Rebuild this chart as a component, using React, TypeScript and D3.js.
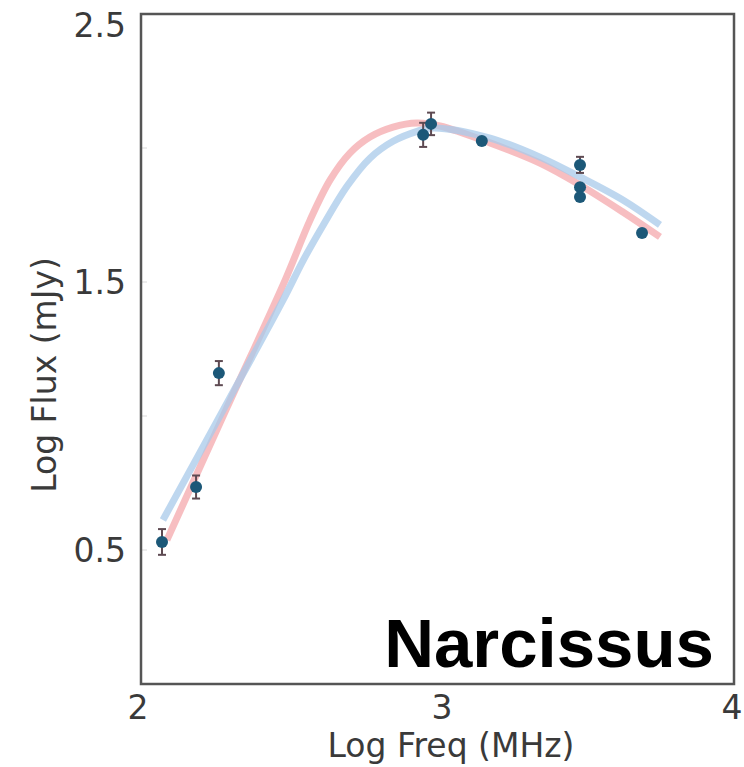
import React from "react";
import * as d3 from "d3";

// Observed data points (log frequency, log flux, error)
const obsFreq = [2.079, 2.191, 2.266, 2.938, 2.964, 3.131, 3.454, 3.454, 3.454, 3.658];
const obsFlux = [0.53, 0.735, 1.16, 2.049, 2.09, 2.026, 1.937, 1.854, 1.817, 1.683];
const obsErr = [0.048, 0.043, 0.045, 0.045, 0.042, 0.01, 0.03, 0.01, 0.01, 0.01];

// Model curve (pink)
const pinkFreq = [2.095, 2.289, 2.484, 2.566, 2.632, 2.697, 2.763, 2.839, 2.918, 2.993, 3.158, 3.322, 3.454, 3.595, 3.717];
const pinkFlux = [0.537, 1.022, 1.507, 1.731, 1.881, 1.981, 2.041, 2.078, 2.093, 2.082, 2.019, 1.944, 1.862, 1.761, 1.668];

// Model curve (blue)
const blueFreq = [2.082, 2.28, 2.477, 2.543, 2.609, 2.688, 2.763, 2.839, 2.918, 2.97, 3.158, 3.322, 3.454, 3.595, 3.717];
const blueFlux = [0.612, 1.022, 1.432, 1.58, 1.712, 1.858, 1.962, 2.025, 2.062, 2.075, 2.037, 1.966, 1.892, 1.806, 1.713];

const xTicks = [2, 3, 4];
const yTicks = [0.5, 1.5, 2.5];
const yMinorTicks = [0.5, 1.0, 1.5, 2.0];

export default function App() {
  const W = 744, H = 767;
  const frame = { left: 141, right: 734, top: 14, bottom: 684 };
  const x = d3.scaleLinear().domain([2, 4]).range([138, 746]);
  const y = d3.scaleLinear().domain([0, 2.5]).range([684, 14]);

  const line = d3
    .line<[number, number]>()
    .x((d) => x(d[0]))
    .y((d) => y(d[1]))
    .curve(d3.curveCatmullRom.alpha(0.5));

  const pink = pinkFreq.map((f, i) => [f, pinkFlux[i]] as [number, number]);
  const blue = blueFreq.map((f, i) => [f, blueFlux[i]] as [number, number]);

  const font = "'DejaVu Sans', Verdana, sans-serif";

  return (
    <svg
      width={W}
      height={H}
      style={{ position: "absolute", left: 0, top: 0, background: "#fff" }}
    >
      <rect x={0} y={0} width={W} height={H} fill="#fff" />
      {/* minor inner ticks */}
      {yMinorTicks.map((t) => (
        <line key={"m" + t} x1={frame.left} x2={frame.left + 6} y1={y(t)} y2={y(t)} stroke="#e6e6e6" strokeWidth={1.5} />
      ))}
      {/* curves */}
      <path d={line(pink) || ""} fill="none" stroke="#f5aeb2" strokeWidth={7} strokeOpacity={0.8} />
      <path d={line(blue) || ""} fill="none" stroke="#a8c9ea" strokeWidth={7} strokeOpacity={0.75} />
      {/* error bars */}
      {obsFreq.map((f, i) => {
        const cx = x(f);
        const y1 = y(obsFlux[i] + obsErr[i]);
        const y2 = y(obsFlux[i] - obsErr[i]);
        return (
          <g key={"e" + i} stroke="#5e4a52" strokeWidth={2}>
            <line x1={cx} x2={cx} y1={y1} y2={y2} />
            <line x1={cx - 4} x2={cx + 4} y1={y1} y2={y1} />
            <line x1={cx - 4} x2={cx + 4} y1={y2} y2={y2} />
          </g>
        );
      })}
      {/* points */}
      {obsFreq.map((f, i) => (
        <circle key={"p" + i} cx={x(f)} cy={y(obsFlux[i])} r={6} fill="#1c5878" />
      ))}
      {/* frame */}
      <rect
        x={frame.left}
        y={frame.top}
        width={frame.right - frame.left}
        height={frame.bottom - frame.top}
        fill="none"
        stroke="#555"
        strokeWidth={2.5}
      />
      {/* x tick labels */}
      {xTicks.map((t) => (
        <text
          key={"x" + t}
          x={Math.min(x(t), 732)}
          y={719}
          textAnchor="middle"
          fontFamily={font}
          fontSize={33}
          fill="#3a3a3a"
        >
          {t}
        </text>
      ))}
      {/* y tick labels */}
      {yTicks.map((t) => (
        <text
          key={"y" + t}
          x={126}
          y={Math.max(y(t), 25)}
          dy="0.36em"
          textAnchor="end"
          fontFamily={font}
          fontSize={33}
          fill="#3a3a3a"
        >
          {t.toFixed(1)}
        </text>
      ))}
      {/* axis titles */}
      <text x={451} y={757} textAnchor="middle" fontFamily={font} fontSize={33} fill="#3a3a3a">
        Log Freq (MHz)
      </text>
      <text
        transform={`translate(56,375) rotate(-90)`}
        textAnchor="middle"
        fontFamily={font}
        fontSize={33}
        fill="#3a3a3a"
      >
        Log Flux (mJy)
      </text>
      {/* label */}
      <text x={714} y={667} textAnchor="end" fontFamily="'Liberation Sans', Arial, sans-serif" fontWeight="bold" fontSize={69} fill="#000">
        Narcissus
      </text>
    </svg>
  );
}
